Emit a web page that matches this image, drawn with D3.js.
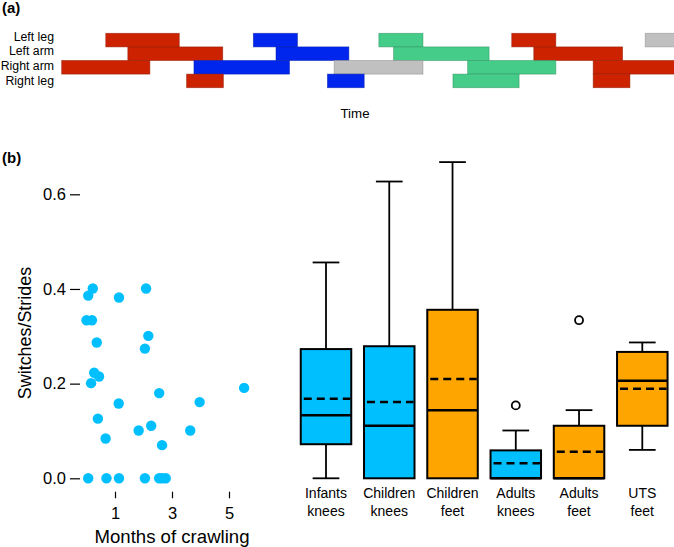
<!DOCTYPE html>
<html>
<head>
<meta charset="utf-8">
<script src="https://cdn.jsdelivr.net/npm/d3@7"></script>
<style>
  html, body { margin: 0; padding: 0; background: #fff; }
  svg { display: block; font-family: "Liberation Sans", Arial, Helvetica, sans-serif; }
</style>
</head>
<body>
<svg id="chart" width="674" height="547"></svg>
<script>
// ---------------- Panel (a): limb phases over time ----------------
const limbs = ["Left leg", "Left arm", "Right arm", "Right leg"];
// [limb, start, end, gait colour] in normalized time units
const phaseLimb  = ["Left leg","Left leg","Left leg","Left leg","Left leg",
                    "Left arm","Left arm","Left arm","Left arm",
                    "Right arm","Right arm","Right arm","Right arm","Right arm",
                    "Right leg","Right leg","Right leg","Right leg"];
const phaseStart = [7.2, 31.3, 51.8, 73.5, 95.3,
                    10.8, 35.0, 54.2, 77.1,
                    0.0, 21.6, 44.5, 66.3, 86.8,
                    20.4, 43.4, 63.9, 86.8];
const phaseEnd   = [19.2, 38.5, 59.0, 80.7, 101,
                    26.3, 46.9, 69.8, 91.6,
                    14.4, 37.2, 59.0, 80.7, 101,
                    26.4, 49.4, 74.7, 92.8];
const phaseKind  = ["red","blue","green","red","gray",
                    "red","blue","green","red",
                    "red","blue","gray","green","red",
                    "red","blue","green","red"];
const kindFill   = {red: "#cc2200", blue: "#0026ee", green: "#44cc88", gray: "#c0c0c0"};
const kindStroke = {red: "#8f1800", blue: "#001aa6", green: "#2f8f5f", gray: "#8a8a8a"};

// ---------------- Panel (b): scatter ----------------
const crawlMonths = [0.22, 0.06, 1.14, 2.09, 0.0, 0.19, 2.17, 0.36, 2.05, 0.27, 0.44, 0.16, 5.53, 2.55,
                     1.13, 3.97, 0.40, 2.27, 1.83, 3.64, 0.67, 2.65, 0.06, 0.70, 1.14, 2.05, 2.55, 2.66, 2.78];
const crawlSwitch = [0.401, 0.386, 0.382, 0.401, 0.334, 0.334, 0.301, 0.287, 0.274, 0.223, 0.215, 0.201, 0.191, 0.180,
                     0.158, 0.161, 0.126, 0.111, 0.101, 0.101, 0.084, 0.070, 0, 0, 0, 0, 0, 0, 0];
const yTicks = [0.0, 0.2, 0.4, 0.6];
const xTicks = [1, 3, 5];

// ---------------- Panel (b): boxplots ----------------
const groupLine1 = ["Infants", "Children", "Children", "Adults", "Adults", "UTS"];
const groupLine2 = ["knees", "knees", "feet", "knees", "feet", "feet"];
const groupColor = ["blue", "blue", "orange", "blue", "orange", "orange"];
const boxLow     = [0.000, 0.000, 0.000, 0.000, 0.000, 0.060];
const boxQ1      = [0.072, 0.000, 0.000, 0.000, 0.000, 0.111];
const boxMedian  = [0.133, 0.111, 0.144, 0.000, 0.000, 0.206];
const boxMean    = [0.168, 0.161, 0.210, 0.032, 0.056, 0.189];
const boxQ3      = [0.273, 0.279, 0.356, 0.059, 0.111, 0.267];
const boxHigh    = [0.456, 0.627, 0.668, 0.101, 0.144, 0.287];
const boxOutlier = [[], [], [], [0.154], [0.334], []];
const boxFill = {blue: "#00bfff", orange: "#ffa500"};

const svg = d3.select("#chart");

// ===== Panel (a) =====
svg.append("text").attr("x", 2).attr("y", 13).attr("font-size", 15).attr("font-weight", "bold").text("(a)");

const tx = d3.scaleLinear().domain([0, 100]).range([61.7, 674]);
const rowY = d3.scaleBand().domain(limbs).range([33.3, 87.7]).padding(0);
const labY = d3.scalePoint().domain(limbs).range([40.6, 84.6]);

const gA = svg.append("g");
gA.append("clipPath").attr("id", "clipA").append("rect")
  .attr("x", 0).attr("y", 0).attr("width", 674).attr("height", 100);
const phases = phaseLimb.map((l, i) => ({limb: l, s: phaseStart[i], e: phaseEnd[i], k: phaseKind[i]}));
gA.append("g").attr("clip-path", "url(#clipA)")
  .selectAll("rect").data(phases).join("rect")
  .attr("x", d => tx(d.s))
  .attr("y", d => rowY(d.limb))
  .attr("width", d => tx(d.e) - tx(d.s))
  .attr("height", rowY.bandwidth())
  .attr("fill", d => kindFill[d.k])
  .attr("stroke", d => kindStroke[d.k])
  .attr("stroke-opacity", 0.6)
  .attr("stroke-width", 0.8);

gA.selectAll("text.limb").data(limbs).join("text")
  .attr("class", "limb")
  .attr("x", 54).attr("y", d => labY(d))
  .attr("text-anchor", "end").attr("font-size", 12.3)
  .text(d => d);

svg.append("text").attr("x", 355).attr("y", 117.5).attr("text-anchor", "middle")
  .attr("font-size", 13.3).text("Time");

// ===== Panel (b) =====
svg.append("text").attr("x", 2).attr("y", 163).attr("font-size", 15).attr("font-weight", "bold").text("(b)");

const y = d3.scaleLinear().domain([0, 0.6]).range([478.3, 194.3]);
const xs = d3.scaleLinear().domain([0, 5]).range([86.5, 229]);

// y axis (tick marks only)
const yAxis = svg.append("g").attr("transform", "translate(80,0)")
  .call(d3.axisLeft(y).tickValues(yTicks).tickSize(10).tickPadding(4).tickFormat(d3.format(".1f")));
yAxis.select(".domain").remove();
yAxis.selectAll("line").attr("stroke", "#000").attr("stroke-width", 1.2);
yAxis.selectAll("text").attr("font-size", 16.5).attr("fill", "#000")
  .attr("font-family", "\"Liberation Sans\", Arial, sans-serif");

// scatter x axis
const xAxis = svg.append("g").attr("transform", "translate(0,491.7)")
  .call(d3.axisBottom(xs).tickValues(xTicks).tickSize(6.6).tickPadding(8.6).tickFormat(d3.format("d")));
xAxis.select(".domain").remove();
xAxis.selectAll("line").attr("stroke", "#000").attr("stroke-width", 1.2);
xAxis.selectAll("text").attr("font-size", 16.5).attr("fill", "#000")
  .attr("font-family", "\"Liberation Sans\", Arial, sans-serif");

svg.append("text").attr("x", 172).attr("y", 542.5).attr("text-anchor", "middle")
  .attr("font-size", 18.6).text("Months of crawling");

svg.append("text").attr("transform", "translate(31,333) rotate(-90)")
  .attr("text-anchor", "middle").attr("font-size", 17.9).text("Switches/Strides");

// scatter points
const pts = crawlMonths.map((m, i) => ({m, v: crawlSwitch[i]}));
svg.append("g").selectAll("circle").data(pts).join("circle")
  .attr("cx", d => xs(d.m)).attr("cy", d => y(d.v))
  .attr("r", 5.2).attr("fill", "#00bfff");

// boxplots
const groups = groupLine1.map((g, i) => i);
const bx = d3.scalePoint().domain(groups).range([326, 642.3]);
const boxW = 50.5, capW = 26.7;
const boxes = groups.map(i => ({
  i, low: boxLow[i], q1: boxQ1[i], med: boxMedian[i], mean: boxMean[i], q3: boxQ3[i],
  high: boxHigh[i], out: boxOutlier[i], col: boxFill[groupColor[i]]
}));
const gB = svg.append("g").selectAll("g").data(boxes).join("g");

// whiskers
gB.filter(d => d.high > d.q3).append("line")
  .attr("x1", d => bx(d.i)).attr("x2", d => bx(d.i))
  .attr("y1", d => y(d.q3)).attr("y2", d => y(d.high))
  .attr("stroke", "#000").attr("stroke-width", 1.8);
gB.filter(d => d.high > d.q3).append("line")
  .attr("x1", d => bx(d.i) - capW / 2).attr("x2", d => bx(d.i) + capW / 2)
  .attr("y1", d => y(d.high)).attr("y2", d => y(d.high))
  .attr("stroke", "#000").attr("stroke-width", 1.8);
gB.filter(d => d.q1 > d.low).append("line")
  .attr("x1", d => bx(d.i)).attr("x2", d => bx(d.i))
  .attr("y1", d => y(d.q1)).attr("y2", d => y(d.low))
  .attr("stroke", "#000").attr("stroke-width", 1.8);
gB.filter(d => d.q1 > d.low).append("line")
  .attr("x1", d => bx(d.i) - capW / 2).attr("x2", d => bx(d.i) + capW / 2)
  .attr("y1", d => y(d.low)).attr("y2", d => y(d.low))
  .attr("stroke", "#000").attr("stroke-width", 1.8);

// box
gB.append("rect")
  .attr("x", d => bx(d.i) - boxW / 2).attr("width", boxW)
  .attr("y", d => y(d.q3)).attr("height", d => y(d.q1) - y(d.q3))
  .attr("fill", d => d.col).attr("stroke", "#000").attr("stroke-width", 2);

// median
gB.append("line")
  .attr("x1", d => bx(d.i) - boxW / 2).attr("x2", d => bx(d.i) + boxW / 2)
  .attr("y1", d => y(d.med)).attr("y2", d => y(d.med))
  .attr("stroke", "#000").attr("stroke-width", 2.5);

// mean (dashed)
gB.append("line")
  .attr("x1", d => bx(d.i) - boxW / 2 + 1).attr("x2", d => bx(d.i) + boxW / 2 - 1)
  .attr("y1", d => y(d.mean)).attr("y2", d => y(d.mean))
  .attr("stroke", "#000").attr("stroke-width", 2.5).attr("stroke-dasharray", "8,5")
  .attr("stroke-dashoffset", -2);

// outliers
gB.selectAll("circle").data(d => d.out.map(v => ({i: d.i, v}))).join("circle")
  .attr("cx", d => bx(d.i)).attr("cy", d => y(d.v)).attr("r", 4)
  .attr("fill", "#fff").attr("stroke", "#000").attr("stroke-width", 1.8);

// group labels
gB.append("text").attr("x", d => bx(d.i)).attr("y", 498.3)
  .attr("text-anchor", "middle").attr("font-size", 14).text(d => groupLine1[d.i]);
gB.append("text").attr("x", d => bx(d.i)).attr("y", 515.7)
  .attr("text-anchor", "middle").attr("font-size", 14).text(d => groupLine2[d.i]);
</script>
</body>
</html>
